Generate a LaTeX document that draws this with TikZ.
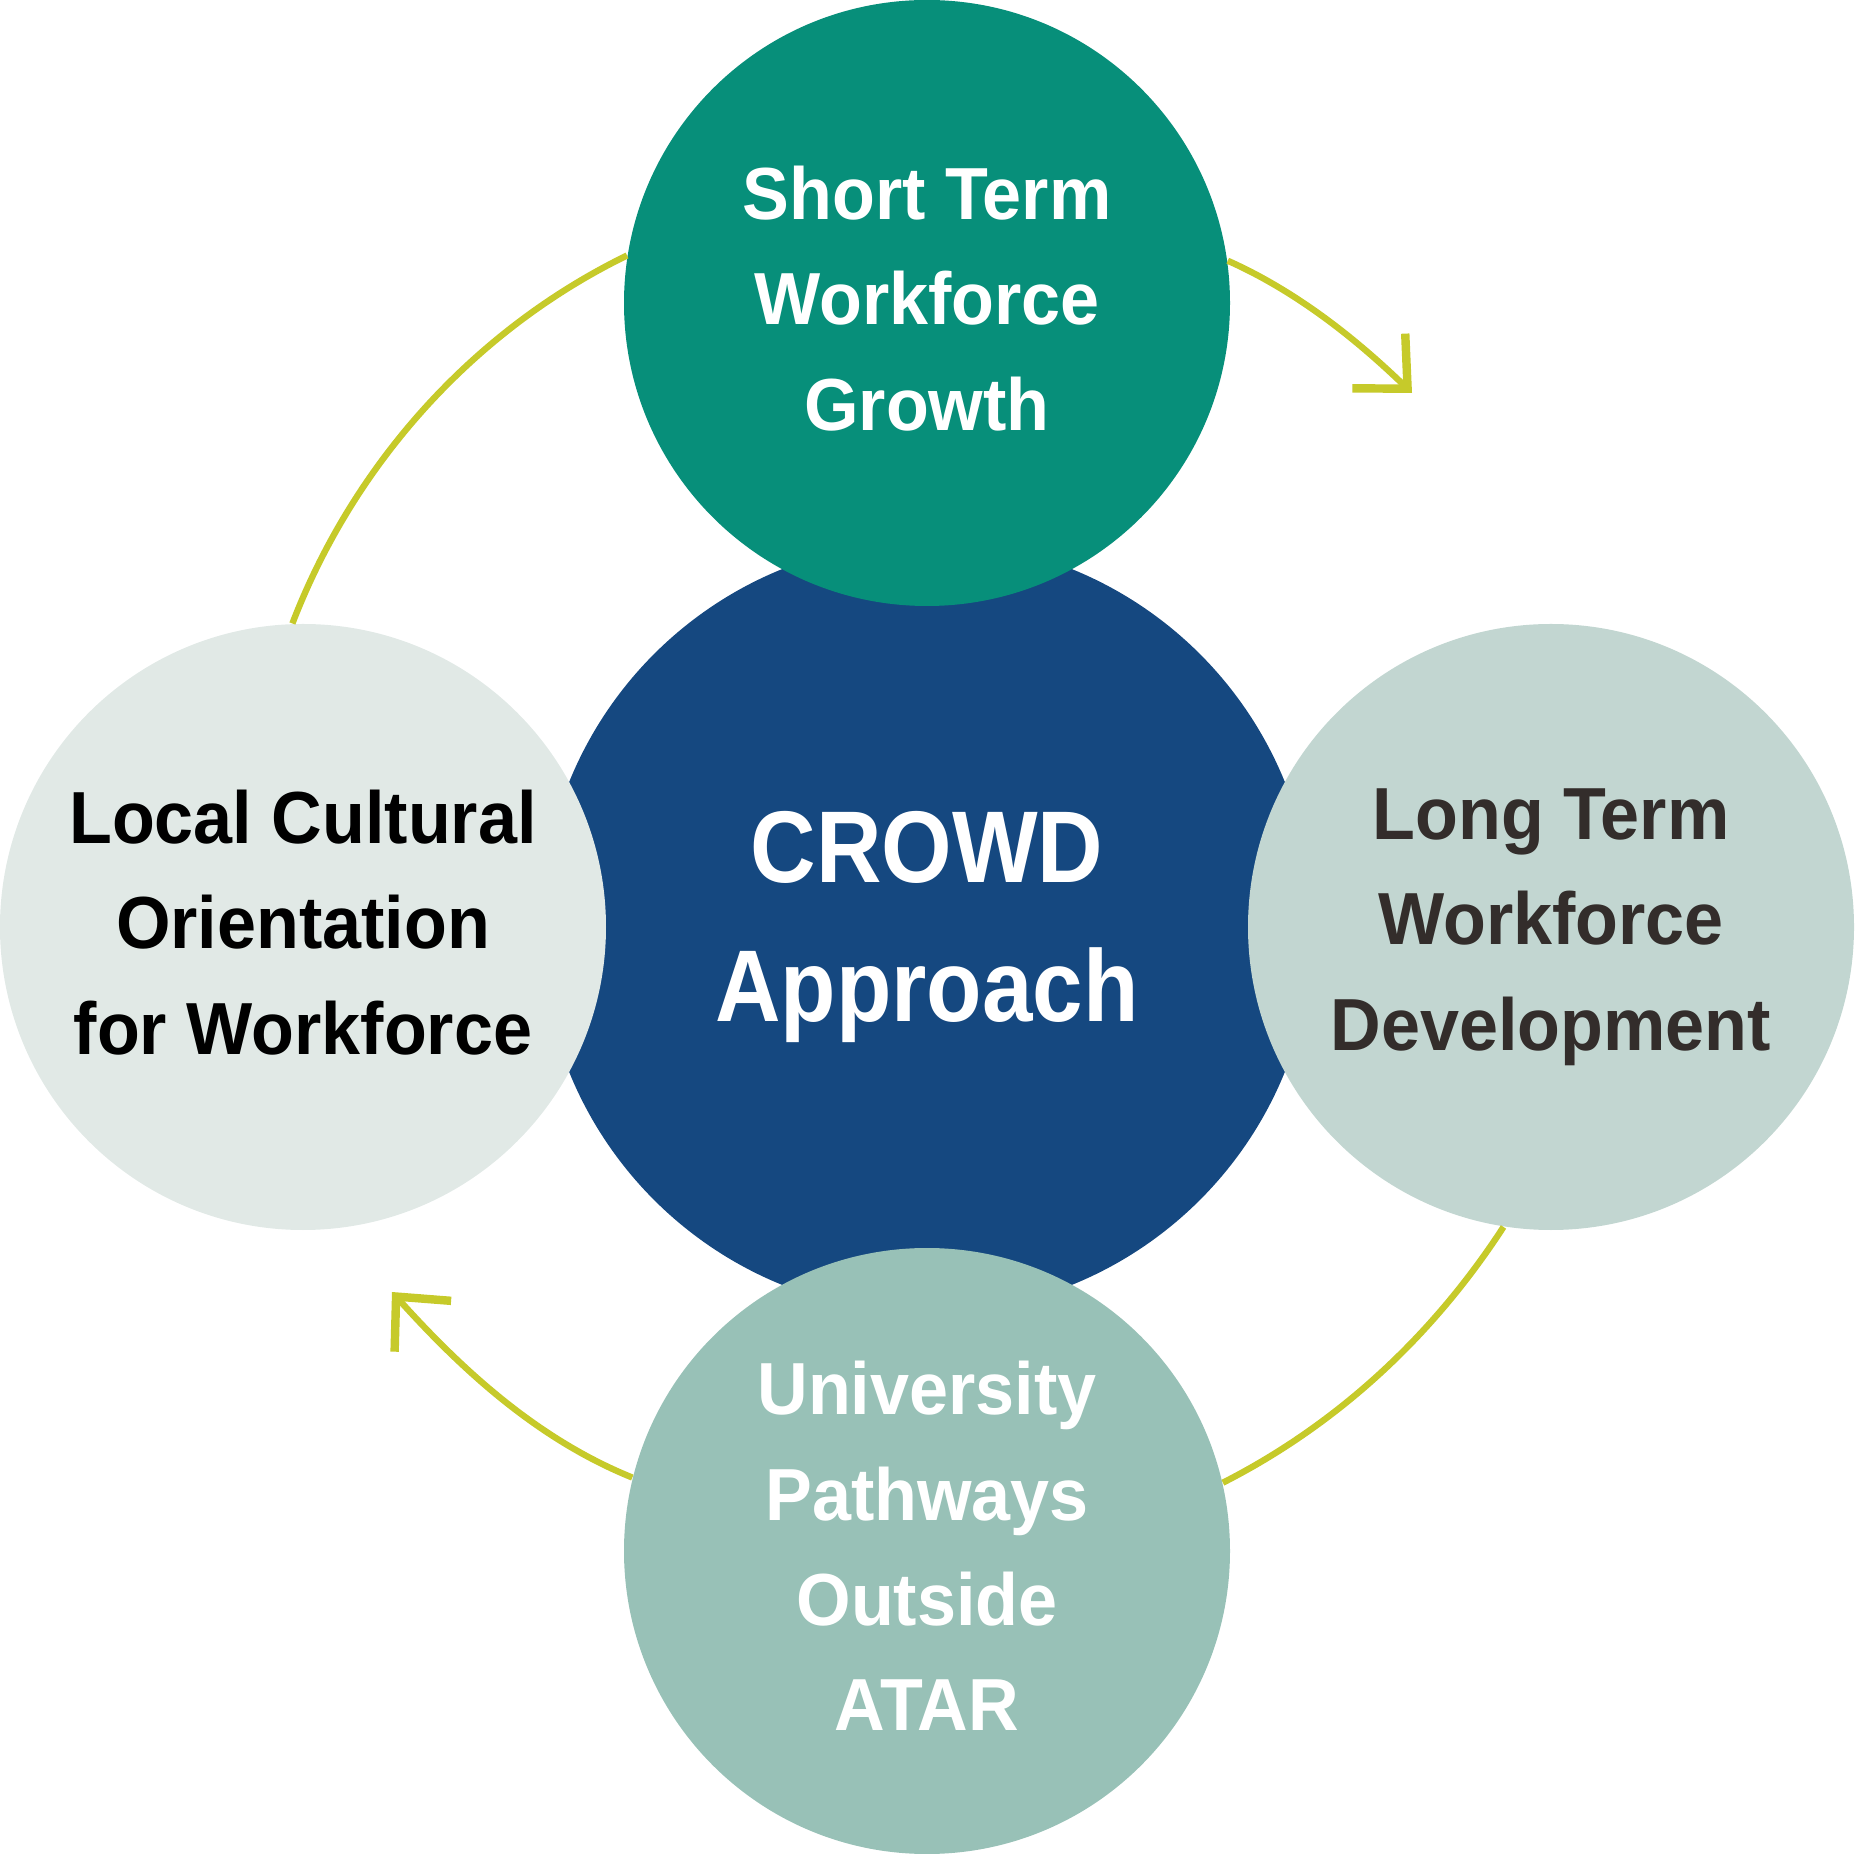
\documentclass[tikz,border=0pt]{standalone}
\usepackage{fontspec}
\setmainfont{Liberation Sans}[FakeStretch=0.95]
\newfontfamily\crowdfont{Liberation Sans}[FakeStretch=0.89]
\usepackage{tikz}
\usetikzlibrary{arrows.meta}

\definecolor{crowdblue}{HTML}{154880}
\definecolor{shortteal}{HTML}{078F7A}
\definecolor{longsage}{HTML}{C2D6D1}
\definecolor{unisea}{HTML}{98C1B7}
\definecolor{localmist}{HTML}{E1E9E6}
\definecolor{cyclelime}{HTML}{C6CA2A}
\definecolor{darktext}{HTML}{332D2B}

\tikzset{
  bubble/.style={circle, inner sep=0pt, minimum size=6.06cm, align=center,
    font=\fontsize{21}{30}\selectfont\bfseries,
    execute at end node={\rule[-1mm]{0pt}{0pt}}},
  cycleline/.style={draw=cyclelime, line width=1.8pt},
  cyclearrow/.style={cycleline,
    -{Straight Barb[length=4mm, width=7.6mm, line width=2.4pt]}}
}

\begin{document}
\begin{tikzpicture}[scale=1]
            \useasboundingbox (-9.27,-9.27) rectangle (9.27,9.27);

            \coordinate (v0) at (0,0);
            \coordinate (v1) at (0,6.24);
            \coordinate (v2) at (6.24,0);
            \coordinate (v3) at (0,-6.24);
            \coordinate (v4) at (-6.24,0);
            \coordinate (t1) at (4.85,5.34);
            \coordinate (t3) at (-5.35,-3.65);

            \node[circle, fill=crowdblue, minimum size=7.72cm, inner sep=0pt,
              align=center, text=white,
              font=\crowdfont\fontsize{29}{39.5}\selectfont\bfseries] (c0) at (v0) {CROWD\\Approach};

            \node[bubble, fill=shortteal, text=white] (c1) at (v1) {Short Term\\Workforce\\Growth};
            \node[bubble, fill=longsage, text=darktext] (c2) at (v2) {Long Term\\Workforce\\Development};
            \node[bubble, fill=unisea, text=white] (c3) at (v3) {University\\Pathways\\Outside\\ATAR};
            \node[bubble, fill=localmist, text=black] (c4) at (v4) {Local Cultural\\Orientation\\for Workforce};

            \draw[cyclearrow] (c1.8.5) to[out=-24, in=136, looseness=0.86] (t1);
            \draw[cycleline] (c2.261.7) to[out=237, in=27, looseness=0.87] (c3.13.2);
            \draw[cyclearrow] (c3.166.9) to[out=158, in=-48, looseness=0.87] (t3);
            \draw[cycleline] (c1.171.5) to[out=206, in=69, looseness=0.88] (c4.92);
        \end{tikzpicture}
\end{document}
